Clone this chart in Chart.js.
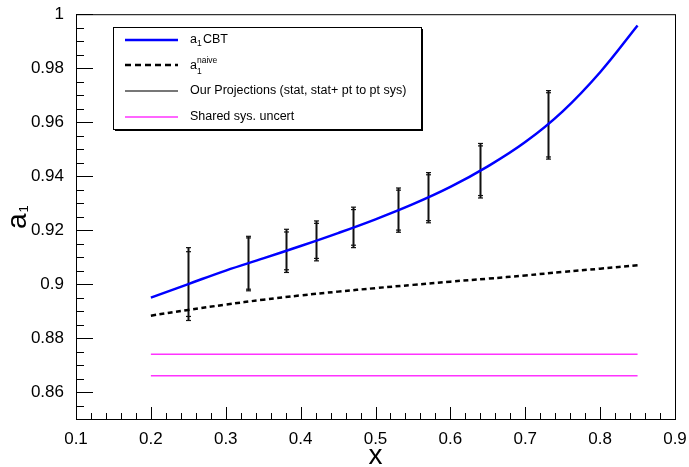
<!DOCTYPE html>
<html>
<head>
<meta charset="utf-8">
<script src="https://cdn.jsdelivr.net/npm/chart.js@4.4.1/dist/chart.umd.min.js"></script>
<style>
  html, body { margin: 0; padding: 0; background: #fff; }
  #wrap { width: 689px; height: 467px; }
</style>
</head>
<body>
<div id="wrap"><canvas id="c" width="689" height="467"></canvas></div>
<script>
// curves
var xGrid   = [0.20, 0.25, 0.30, 0.35, 0.40, 0.45, 0.50, 0.55, 0.60, 0.65, 0.70, 0.75, 0.80, 0.85];
var a1CBT   = [0.8950, 0.9000, 0.9050, 0.9095, 0.9141, 0.9189, 0.9240, 0.9296, 0.9360, 0.9436, 0.9526, 0.9640, 0.9785, 0.9958];
var a1Naive = [0.8883, 0.8904, 0.8924, 0.8942, 0.8958, 0.8972, 0.8985, 0.8997, 0.9009, 0.9020, 0.9032, 0.9045, 0.9057, 0.9070];

// projections: centre, stat error, stat+pt-to-pt sys error
var projX    = [0.25, 0.33, 0.38, 0.42, 0.47, 0.53, 0.57, 0.64, 0.73];
var projY    = [0.9000, 0.9076, 0.9123, 0.9160, 0.9210, 0.9274, 0.9320, 0.9420, 0.9590];
var projStat = [0.0120, 0.0095, 0.0070, 0.0065, 0.0066, 0.0074, 0.0085, 0.0092, 0.0119];
var projTot  = [0.0135, 0.0101, 0.0080, 0.0074, 0.0075, 0.0082, 0.0093, 0.0101, 0.0127];

// shared systematic uncertainty lines
var sharedX  = [0.20, 0.85];
var sharedHi = [0.874, 0.874];
var sharedLo = [0.866, 0.866];

// axes
var xMin = 0.1, xMax = 0.9, xMinor = 0.02;
var yMin = 0.85, yMax = 1.0, yMinor = 0.005;
var xTickVals = [0.1, 0.2, 0.3, 0.4, 0.5, 0.6, 0.7, 0.8, 0.9];
var yTickVals = [0.86, 0.88, 0.9, 0.92, 0.94, 0.96, 0.98, 1];

var legendLabels = ['CBT', 'naive', 'Our Projections (stat, stat+ pt to pt sys)', 'Shared sys. uncert'];

function pts(xs, ys) {
  return xs.map(function (x, i) { return { x: x, y: ys[i] }; });
}
function isMajor(v, list) {
  return list.some(function (t) { return Math.abs(t - v) < 1e-6; });
}

var FONT = '"Liberation Sans", Arial, Helvetica, sans-serif';

// inward ticks + frame, like the ROOT style
var framePlugin = {
  id: 'frame',
  afterDraw: function (chart) {
    var ctx = chart.ctx, ca = chart.chartArea;
    var xa = chart.scales.x, ya = chart.scales.y;
    ctx.save();
    ctx.strokeStyle = '#000';
    ctx.lineWidth = 1;
    var i, v, p, major;
    var ny = Math.round((yMax - yMin) / yMinor);
    for (i = 0; i <= ny; i++) {
      v = yMin + i * yMinor;
      major = isMajor(v, yTickVals);
      p = Math.round(ya.getPixelForValue(v)) + 0.5;
      ctx.beginPath();
      ctx.moveTo(ca.left, p);
      ctx.lineTo(ca.left + (major ? 17 : 8), p);
      ctx.stroke();
    }
    var nx = Math.round((xMax - xMin) / xMinor);
    for (i = 0; i <= nx; i++) {
      v = xMin + i * xMinor;
      major = isMajor(v, xTickVals);
      p = Math.round(xa.getPixelForValue(v)) + 0.5;
      ctx.beginPath();
      ctx.moveTo(p, ca.bottom);
      ctx.lineTo(p, ca.bottom - (major ? 12 : 6));
      ctx.stroke();
    }
    ctx.strokeRect(ca.left + 0.5, ca.top + 0.5, ca.right - ca.left, ca.bottom - ca.top);

    // axis titles
    ctx.fillStyle = '#000';
    ctx.font = '28px ' + FONT;
    ctx.textAlign = 'center';
    ctx.textBaseline = 'alphabetic';
    ctx.fillText('x', xa.getPixelForValue(0.5), 464);

    ctx.translate(25.5, 229);
    ctx.rotate(-Math.PI / 2);
    ctx.textAlign = 'left';
    ctx.font = '28px ' + FONT;
    ctx.fillText('a', 0, 0);
    var w = ctx.measureText('a').width;
    ctx.font = '13px ' + FONT;
    ctx.fillText('1', w + 1, 2);
    ctx.restore();
  }
};

// error bars for the projections
var errPlugin = {
  id: 'errbars',
  beforeDatasetsDraw: function (chart) {
    var ctx = chart.ctx, xa = chart.scales.x, ya = chart.scales.y;
    ctx.save();
    ctx.strokeStyle = '#111';
    for (var i = 0; i < projX.length; i++) {
      var px = Math.round(xa.getPixelForValue(projX[i])) + 0.5;
      var top = ya.getPixelForValue(projY[i] + projTot[i]);
      var bot = ya.getPixelForValue(projY[i] - projTot[i]);
      ctx.lineWidth = 2;
      ctx.beginPath();
      ctx.moveTo(px, top);
      ctx.lineTo(px, bot);
      ctx.stroke();
      ctx.lineWidth = 1.2;
      [projY[i] + projTot[i], projY[i] - projTot[i], projY[i] + projStat[i], projY[i] - projStat[i]].forEach(function (v) {
        var py = ya.getPixelForValue(v);
        ctx.beginPath();
        ctx.moveTo(px - 2.5, py);
        ctx.lineTo(px + 2.5, py);
        ctx.stroke();
      });
    }
    ctx.restore();
  }
};

// legend box drawn by hand (sub/superscripts)
var legendPlugin = {
  id: 'rootLegend',
  afterDraw: function (chart) {
    var ctx = chart.ctx;
    var bx = 113, by = 27, bw = 308, bh = 102;
    ctx.save();
    ctx.fillStyle = '#000';
    ctx.fillRect(bx + 2, by + 2, bw, bh);
    ctx.fillStyle = '#fff';
    ctx.fillRect(bx, by, bw, bh);
    ctx.strokeStyle = '#000';
    ctx.lineWidth = 1;
    ctx.strokeRect(bx + 0.5, by + 0.5, bw, bh);

    var rows = [40, 65, 91, 117];
    var styles = [
      { c: '#0000ff', w: 2.5, d: [] },
      { c: '#000', w: 2.5, d: [6, 4] },
      { c: '#777', w: 2, d: [] },
      { c: '#ff33ff', w: 1.5, d: [] }
    ];
    for (var i = 0; i < rows.length; i++) {
      ctx.strokeStyle = styles[i].c;
      ctx.lineWidth = styles[i].w;
      ctx.setLineDash(styles[i].d);
      ctx.beginPath();
      ctx.moveTo(125, rows[i]);
      ctx.lineTo(178, rows[i]);
      ctx.stroke();
    }
    ctx.setLineDash([]);
    ctx.fillStyle = '#000';
    ctx.textAlign = 'left';
    ctx.textBaseline = 'middle';
    var big = '12.5px ' + FONT, small = '8.5px ' + FONT;

    ctx.font = big;
    ctx.fillText('a', 190, rows[0]);
    var aw = ctx.measureText('a').width;
    ctx.font = small;
    ctx.fillText('1', 190 + aw, rows[0] + 3.5);
    ctx.font = big;
    ctx.fillText(legendLabels[0], 203, rows[0]);

    ctx.fillText('a', 190, rows[1] + 1);
    ctx.font = small;
    ctx.fillText(legendLabels[1], 190 + aw, rows[1] - 4.5);
    ctx.fillText('1', 190 + aw, rows[1] + 7);

    ctx.font = big;
    ctx.fillText(legendLabels[2], 190, rows[2]);
    ctx.fillText(legendLabels[3], 190, rows[3]);
    ctx.restore();
  }
};

Chart.defaults.color = '#000';
Chart.defaults.font.family = FONT;

function fmt(v) { return String(+Number(v).toFixed(3)); }

new Chart(document.getElementById('c').getContext('2d'), {
  type: 'line',
  data: {
    datasets: [
      { data: pts(xGrid, a1CBT), borderColor: '#0000ff', borderWidth: 2.5, pointRadius: 0, tension: 0.4 },
      { data: pts(xGrid, a1Naive), borderColor: '#000', borderWidth: 2.5, borderDash: [5, 3.5], pointRadius: 0, tension: 0.4 },
      { data: pts(sharedX, sharedHi), borderColor: '#ff33ff', borderWidth: 1.6, pointRadius: 0 },
      { data: pts(sharedX, sharedLo), borderColor: '#ff33ff', borderWidth: 1.6, pointRadius: 0 }
    ]
  },
  options: {
    responsive: false,
    animation: false,
    devicePixelRatio: 1,
    layout: { padding: { top: 12, right: 14, left: 0, bottom: 0 } },
    plugins: { legend: { display: false }, tooltip: { enabled: false } },
    scales: {
      x: {
        type: 'linear', min: xMin, max: xMax, bounds: 'data',
        grid: { display: false },
        border: { display: false },
        afterBuildTicks: function (s) { s.ticks = xTickVals.map(function (v) { return { value: v }; }); },
        ticks: {
          padding: 2, maxRotation: 0, autoSkip: false,
          font: { size: 17 },
          callback: fmt
        },
        afterFit: function (s) { s.height = 48; }
      },
      y: {
        type: 'linear', min: yMin, max: yMax, bounds: 'data',
        grid: { display: false },
        border: { display: false },
        afterBuildTicks: function (s) { s.ticks = yTickVals.map(function (v) { return { value: v }; }); },
        ticks: {
          padding: 4, autoSkip: false,
          font: { size: 17 },
          callback: fmt
        },
        afterFit: function (s) { s.width = 76; }
      }
    }
  },
  plugins: [errPlugin, framePlugin, legendPlugin]
});
</script>
</body>
</html>
